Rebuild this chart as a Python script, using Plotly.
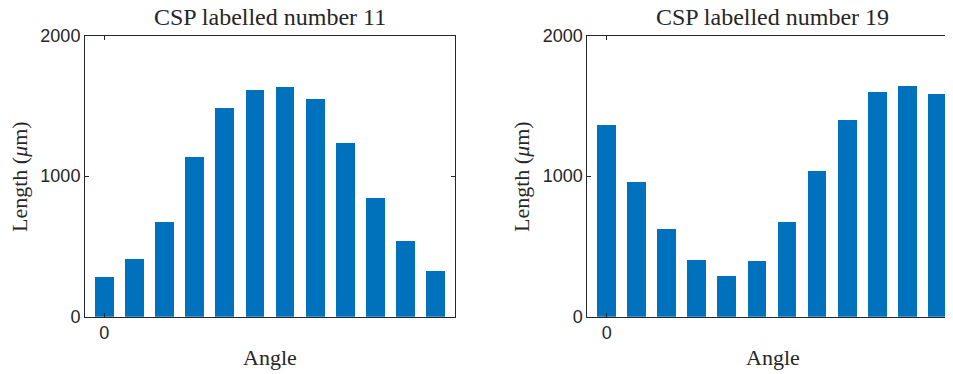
import plotly.graph_objects as go

angles = [0, 15, 30, 45, 60, 75, 90, 105, 120, 135, 150, 165]
csp11 = [289, 414, 679, 1138, 1489, 1614, 1636, 1553, 1238, 845, 540, 329]
csp19 = [1366, 959, 625, 410, 296, 400, 679, 1039, 1406, 1600, 1643, 1584]
titles = ["CSP labelled number 11", "CSP labelled number 19"]
ytick_vals = [0, 1000, 2000]
xtick_vals = [0]

OFF = 8  # page body margin
W, H = 953 - OFF, 374 - OFF
blue = "#0072BD"
axcol = "#262626"


def px(x):
    return (x - OFF) / W


def py(y):
    return 1 - (y - OFF) / H


fig = go.Figure()
fig.add_trace(go.Bar(x=angles, y=csp11, width=9.3, marker=dict(color=blue, line=dict(width=0)),
                     xaxis="x", yaxis="y", showlegend=False))
fig.add_trace(go.Bar(x=angles, y=csp19, width=9.3, marker=dict(color=blue, line=dict(width=0)),
                     xaxis="x2", yaxis="y2", showlegend=False))

ydom = [py(316.7), py(35.5)]
sans = "Liberation Sans, Arial, sans-serif"
common_x = dict(tickvals=xtick_vals, ticktext=["0"], ticks="inside", ticklen=4, tickcolor=axcol,
                showline=True, linecolor=axcol, linewidth=1, showgrid=False, zeroline=False,
                automargin=False,
                tickfont=dict(family=sans, size=18, color=axcol), fixedrange=True)
common_y = dict(tickvals=ytick_vals, ticks="inside", ticklen=4, tickcolor=axcol,
                showline=True, linecolor=axcol, linewidth=1, showgrid=False, zeroline=False,
                range=[0, 2000], domain=ydom, automargin=False,
                tickfont=dict(family=sans, size=18, color=axcol), fixedrange=True)

fig.update_layout(
    width=W, height=H,
    margin=dict(l=0, r=0, t=0, b=0, autoexpand=False),
    paper_bgcolor="white", plot_bgcolor="white",
    xaxis=dict(common_x, domain=[px(85), px(455)], range=[-9.6, 174.6], mirror="ticks", anchor="y"),
    yaxis=dict(common_y, mirror="ticks", anchor="x"),
    xaxis2=dict(common_x, domain=[px(587.3), 1.0], range=[-9.7, 172.6], mirror="ticks", anchor="y2"),
    yaxis2=dict(common_y, mirror=False, anchor="x2"),
    bargap=0,
)

serif = "Liberation Serif, Times New Roman, serif"
ann = []
for cx, t in [(270, titles[0]), (772.5, titles[1])]:
    ann.append(dict(text=t, x=px(cx), y=py(17), xref="paper", yref="paper",
                    xanchor="center", yanchor="middle", showarrow=False,
                    font=dict(family=serif, size=24, color=axcol)))
for cx in [270, 772.5]:
    ann.append(dict(text="Angle", x=px(cx), y=py(357), xref="paper", yref="paper",
                    xanchor="center", yanchor="middle", showarrow=False,
                    font=dict(family=serif, size=22, color=axcol)))
for cx in [20, 522]:
    ann.append(dict(text="Length (<i>μ</i>m)", x=px(cx), y=py(177), xref="paper", yref="paper",
                    xanchor="center", yanchor="middle", showarrow=False, textangle=-90,
                    font=dict(family=serif, size=22, color=axcol)))
fig.update_layout(annotations=ann)

fig.write_html("out.html")
